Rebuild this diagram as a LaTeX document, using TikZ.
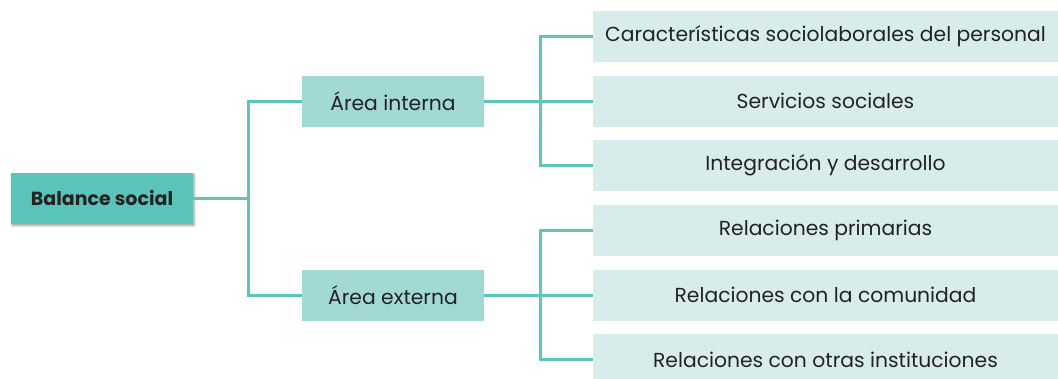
\documentclass[tikz,border=0pt]{standalone}
\usepackage{fontspec}
\setmainfont{Poppins}
\usepackage{tikz}
\usetikzlibrary{positioning, shadows.blur}

\definecolor{rootfill}{HTML}{5BC4BA}
\definecolor{areafill}{HTML}{A3D9D5}
\definecolor{itemfill}{HTML}{D8EDEB}
\definecolor{linkcol}{HTML}{5EC5BB}
\definecolor{inkcol}{HTML}{222222}

\tikzset{
  root/.style={fill=rootfill, minimum width=182, minimum height=51, text=inkcol,
    font=\fontsize{19}{22}\selectfont\bfseries,
    blur shadow={shadow xshift=1pt, shadow yshift=-2pt, shadow blur steps=6}},
  area/.style={fill=areafill, minimum width=182, minimum height=51, text=inkcol,
    font=\fontsize{20.3}{24}\selectfont},
  item/.style={fill=itemfill, minimum width=465, minimum height=51, text=inkcol,
    font=\fontsize{20.3}{24}\selectfont},
  link/.style={draw=linkcol, line width=3pt}
}

\begin{document}
\begin{tikzpicture}[x=1pt, y=1pt, on grid, node distance=97 and 291]
   \useasboundingbox (0,0) rectangle (1058,-378);

   \node[root] (bs) at (102,-198) {Balance social};
   \node[area] (ai) [above right=of bs] {Área interna};
   \node[area] (ae) [below right=of bs] {Área externa};

   % items of each area
   \node[item] (i1) [above right=64.5 and 432.5 of ai] {Características sociolaborales del personal};
   \node[item] (i2) [right=432.5 of ai] {Servicios sociales};
   \node[item] (i3) [below right=64.5 and 432.5 of ai] {Integración y desarrollo};
   \node[item] (e1) [above right=64.5 and 432.5 of ae] {Relaciones primarias};
   \node[item] (e2) [right=432.5 of ae] {Relaciones con la comunidad};
   \node[item] (e3) [below right=64.5 and 432.5 of ae] {Relaciones con otras instituciones};

   \draw[link] (bs.east) -- ++(55,0) coordinate (j0);
   \draw[link] (j0) |- (ai.west);
   \draw[link] (j0) |- (ae.west);

   \draw[link] (ai.east) -- ++(56,0) coordinate (ja);
   \draw[link] (ae.east) -- ++(56,0) coordinate (je);
   \foreach \n in {i1, i2, i3}
      \draw[link] (ja) |- (\n.west);
   \foreach \n in {e1, e2, e3}
      \draw[link] (je) |- (\n.west);
\end{tikzpicture}
\end{document}
